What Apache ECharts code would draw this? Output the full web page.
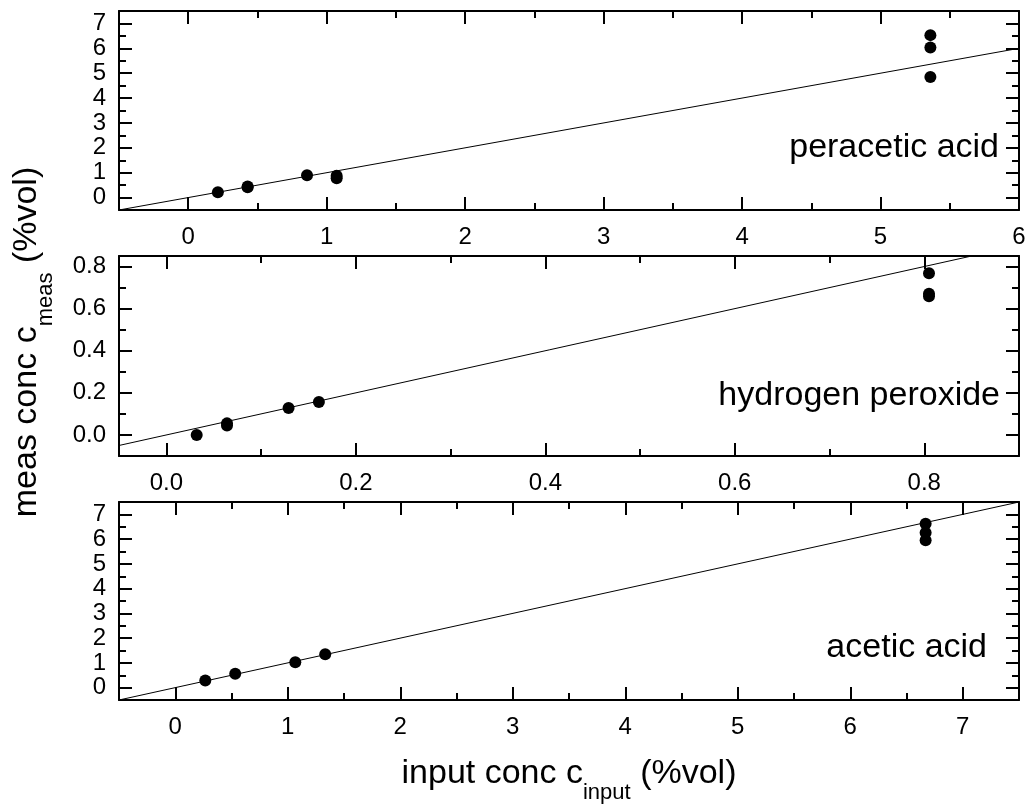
<!DOCTYPE html>
<html>
<head>
<meta charset="utf-8">
<script src="https://cdn.jsdelivr.net/npm/echarts@6/dist/echarts.min.js"></script>
<style>
  html, body { margin: 0; padding: 0; background: #fff; }
  #chart { width: 1031px; height: 808px; }
</style>
</head>
<body>
<div id="chart"></div>
<script>
// measured points, top to bottom panel
const peraceticX = [0.214, 0.429, 0.429, 0.858, 1.072, 1.072, 5.36, 5.36, 5.36];
const peraceticY = [0.21, 0.44, 0.41, 0.90, 0.88, 0.78, 6.53, 6.03, 4.85];
const peroxideX = [0.032, 0.064, 0.064, 0.129, 0.161, 0.805, 0.805, 0.805];
const peroxideY = [0.00, 0.055, 0.045, 0.128, 0.157, 0.768, 0.671, 0.659];
const aceticX = [0.267, 0.533, 1.067, 1.333, 6.67, 6.67, 6.67];
const aceticY = [0.29, 0.56, 1.03, 1.35, 6.62, 6.26, 5.95];

// y = x reference lines
const peraceticFit = [[-0.5, -0.5], [6, 6]];
const peroxideFit = [[-0.05, -0.05], [0.9, 0.9]];
const aceticFit = [[-0.5, -0.5], [7.5, 7.5]];

// axis ranges
const peraceticXRange = [-0.5, 6], peraceticYRange = [-0.5, 7.5];
const peroxideXRange = [-0.05, 0.9], peroxideYRange = [-0.1, 0.85];
const aceticXRange = [-0.5, 7.5], aceticYRange = [-0.5, 7.5];

// tick values
const peraceticXMajor = [0, 1, 2, 3, 4, 5, 6];
const peraceticXMinor = [0.5, 1.5, 2.5, 3.5, 4.5, 5.5];
const concYMajor = [0, 1, 2, 3, 4, 5, 6, 7];
const concYMinor = [0.5, 1.5, 2.5, 3.5, 4.5, 5.5, 6.5];
const peroxideMajor = [0, 0.2, 0.4, 0.6, 0.8];
const peroxideMinor = [0.1, 0.3, 0.5, 0.7];
const aceticXMajor = [0, 1, 2, 3, 4, 5, 6, 7];
const aceticXMinor = [0.5, 1.5, 2.5, 3.5, 4.5, 5.5, 6.5];

const panelNames = ['peracetic acid', 'hydrogen peroxide', 'acetic acid'];
const xTitle = '{t|input conc c}{s|input}{t| (%vol)}';
const yTitle = '{t|meas conc c}{s|meas}{t| (%vol)}';

const FONT = '"Liberation Sans", Arial, Helvetica, sans-serif';
const BLACK = '#000';

const grids = [
  { left: 119, top: 11, width: 900, height: 199 },
  { left: 119, top: 256, width: 900, height: 200 },
  { left: 119, top: 502, width: 900, height: 198 }
];

function tick(vals, len) {
  return { show: true, inside: true, length: len, customValues: vals, lineStyle: { color: BLACK, width: 2 } };
}

function axisSet(dim, g, range, major, minor, fmt) {
  const first = dim === 'x' ? 'bottom' : 'left';
  const second = dim === 'x' ? 'top' : 'right';
  const base = {
    gridIndex: g, type: 'value', min: range[0], max: range[1],
    splitLine: { show: false },
    axisLine: { show: true, onZero: false, lineStyle: { color: BLACK, width: 2 } }
  };
  const hidden = { show: false };
  const noLine = { show: false, onZero: false };
  return [
    Object.assign({}, base, {
      position: first, axisTick: tick(major, 13),
      axisLabel: { customValues: major, formatter: fmt, margin: dim === 'x' ? 15 : 13,
        color: BLACK, fontSize: 24, fontFamily: FONT }
    }),
    Object.assign({}, base, { position: first, axisLine: noLine, axisTick: tick(minor, 7), axisLabel: hidden }),
    Object.assign({}, base, { position: second, axisTick: tick(major, 13), axisLabel: hidden }),
    Object.assign({}, base, { position: second, axisLine: noLine, axisTick: tick(minor, 7), axisLabel: hidden })
  ];
}

const intFmt = v => String(Math.round(v));
const decFmt = v => v.toFixed(1);

const xAxis = [].concat(
  axisSet('x', 0, peraceticXRange, peraceticXMajor, peraceticXMinor, intFmt),
  axisSet('x', 1, peroxideXRange, peroxideMajor, peroxideMinor, decFmt),
  axisSet('x', 2, aceticXRange, aceticXMajor, aceticXMinor, intFmt)
);
const yAxis = [].concat(
  axisSet('y', 0, peraceticYRange, concYMajor, concYMinor, intFmt),
  axisSet('y', 1, peroxideYRange, peroxideMajor, peroxideMinor, decFmt),
  axisSet('y', 2, aceticYRange, concYMajor, concYMinor, intFmt)
);

function pairs(xs, ys) {
  return xs.map((x, i) => [x, ys[i]]);
}

const points = [pairs(peraceticX, peraceticY), pairs(peroxideX, peroxideY), pairs(aceticX, aceticY)];
const fits = [peraceticFit, peroxideFit, aceticFit];

const series = [];
for (let g = 0; g < 3; g++) {
  series.push({
    type: 'line', xAxisIndex: g * 4, yAxisIndex: g * 4, data: fits[g],
    showSymbol: false, symbol: 'none', clip: true, silent: true,
    lineStyle: { color: BLACK, width: 1 }
  });
  series.push({
    type: 'scatter', xAxisIndex: g * 4, yAxisIndex: g * 4, data: points[g],
    symbol: 'circle', symbolSize: 12, itemStyle: { color: BLACK, opacity: 1 }
  });
}

const titleRich = {
  t: { fontSize: 34, lineHeight: 34, fontFamily: FONT, fill: BLACK, verticalAlign: 'top' },
  s: { fontSize: 22, lineHeight: 22, fontFamily: FONT, fill: BLACK, verticalAlign: 'top', padding: [25, 0, 0, 0] }
};

// panel label positions (right edge, vertical middle)
const labelPos = [[999, 147.5], [1000, 395.8], [987, 647.5]];

const graphic = panelNames.map((name, i) => ({
  type: 'text', x: labelPos[i][0], y: labelPos[i][1], z: 10,
  style: { text: name, fontSize: 34, fontFamily: FONT, fill: BLACK, align: 'right', verticalAlign: 'middle' }
}));
graphic.push({
  type: 'text', x: 569, y: 757,
  style: { text: xTitle, rich: titleRich, align: 'center', verticalAlign: 'top' }
});
graphic.push({
  type: 'text', x: 10, y: 342, rotation: Math.PI / 2,
  style: { text: yTitle, rich: titleRich, align: 'center', verticalAlign: 'top' }
});

const chart = echarts.init(document.getElementById('chart'));
chart.setOption({
  animation: false,
  backgroundColor: '#fff',
  grid: grids,
  xAxis: xAxis,
  yAxis: yAxis,
  series: series,
  graphic: graphic
});
</script>
</body>
</html>
